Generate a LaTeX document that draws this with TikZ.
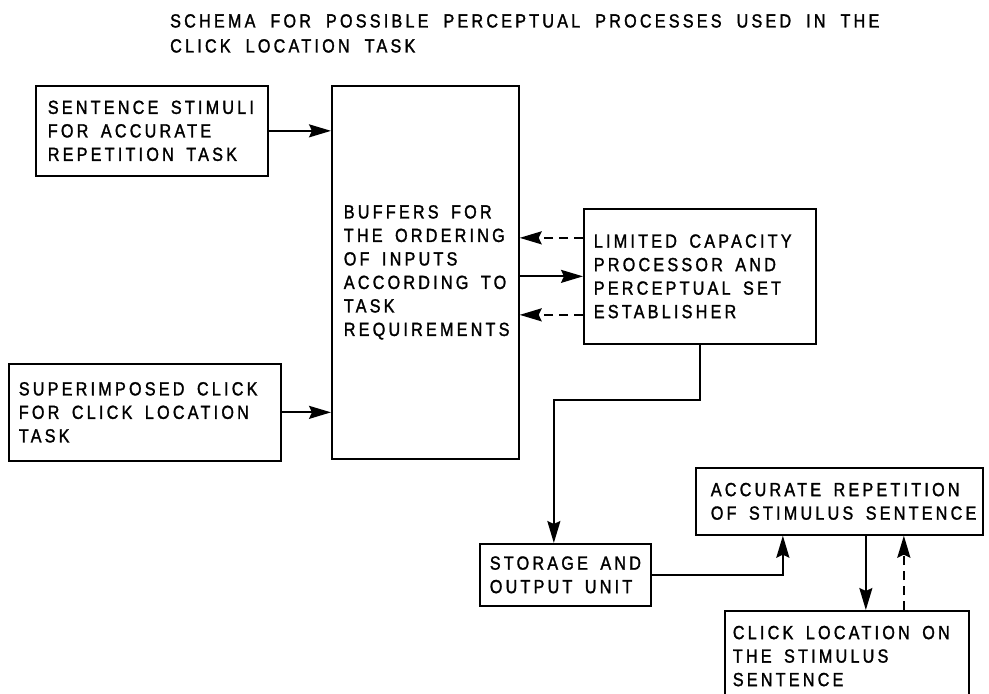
\documentclass[tikz,border=0pt]{standalone}
\usepackage{fontspec}
\setmainfont[LetterSpace=17,FakeStretch=0.85,FakeBold=1.5]{Liberation Sans}
\usetikzlibrary{arrows.meta,calc}
\newcommand{\tl}[1]{\mbox{\spaceskip=12.5pt\relax #1}}
\newcommand{\ttl}[1]{\mbox{\spaceskip=15pt\relax #1}}
\tikzset{
  boxfont/.style={font=\fontsize{19}{23.5}\selectfont},
  box/.style={draw, line width=1.7pt, anchor=north west, align=left, inner ysep=0pt, boxfont},
  arr/.style={line width=1.9pt, -{Stealth[length=22pt,width=13pt,inset=3pt]}},
  dsh/.style={dash pattern=on 9pt off 6pt}
}
\begin{document}
\begin{tikzpicture}[x=1pt,y=-1pt]
\useasboundingbox (0,0) rectangle (989,694);
\fill[white] (0,0) rectangle (989,694);

\node[boxfont, anchor=north west, align=left, inner sep=0pt] (title) at (170,14)
  {\ttl{SCHEMA FOR POSSIBLE PERCEPTUAL PROCESSES USED IN THE}\\[1.5pt]\ttl{CLICK LOCATION TASK}};

\node[box, minimum width=232pt, minimum height=90pt, text width=208pt, inner xsep=12pt] (s1) at (35,85)
  {\tl{SENTENCE STIMULI}\\\tl{FOR ACCURATE}\\\tl{REPETITION TASK}};

\node[box, minimum width=187pt, minimum height=373pt, text width=163pt, inner xsep=12pt] (buf) at (331,85)
  {\tl{BUFFERS FOR}\\\tl{THE ORDERING}\\\tl{OF INPUTS}\\\tl{ACCORDING TO}\\\tl{TASK}\\\tl{REQUIREMENTS}};

\node[box, minimum width=232pt, minimum height=135pt, text width=212pt, inner xsep=10pt] (lcp) at (583,208)
  {\tl{LIMITED CAPACITY}\\\tl{PROCESSOR AND}\\\tl{PERCEPTUAL SET}\\\tl{ESTABLISHER}};

\node[box, minimum width=272pt, minimum height=97pt, text width=252pt, inner xsep=10pt] (s2) at (8,363)
  {\tl{SUPERIMPOSED CLICK}\\\tl{FOR CLICK LOCATION}\\\tl{TASK}};

\node[box, minimum width=171pt, minimum height=62pt, text width=151pt, inner xsep=10pt] (sto) at (479,543)
  {\tl{STORAGE AND}\\\tl{OUTPUT UNIT}};

\node[box, minimum width=287pt, minimum height=67pt, text width=257pt, inner xsep=15pt] (acc) at (695,467)
  {\tl{ACCURATE REPETITION}\\\tl{OF STIMULUS SENTENCE}};

\node[box, minimum width=244pt, text width=228pt, inner xsep=8pt, inner ysep=15pt] (clk) at (724,610)
  {\tl{CLICK LOCATION ON}\\\tl{THE STIMULUS}\\\tl{SENTENCE}};

% inputs
\draw[arr] (s1.east) -- (s1.east -| buf.west);
\draw[arr] (s2.east) -- (s2.east -| buf.west);

% buffers <-> processor
\draw[arr,dsh] ([yshift=38.5pt]lcp.west) -- ([yshift=38.5pt]lcp.west -| buf.east);
\draw[arr] (lcp.west -| buf.east) -- (lcp.west);
\draw[arr,dsh] ([yshift=-38.5pt]lcp.west) -- ([yshift=-38.5pt]lcp.west -| buf.east);

% processor -> storage
\draw[arr] (lcp.south) -- ++(0,55) -| ([xshift=-11.5pt]sto.north);

% storage -> accurate repetition
\draw[arr] (sto.east) -| ([xshift=-56.5pt]acc.south);

% accurate repetition <-> click location
\coordinate (a1) at ([xshift=26.5pt]acc.south);
\coordinate (a2) at ([xshift=64.5pt]acc.south);
\draw[arr] (a1) -- (a1 |- clk.north);
\draw[arr,dsh] (a2 |- clk.north) -- (a2);
\end{tikzpicture}
\end{document}
